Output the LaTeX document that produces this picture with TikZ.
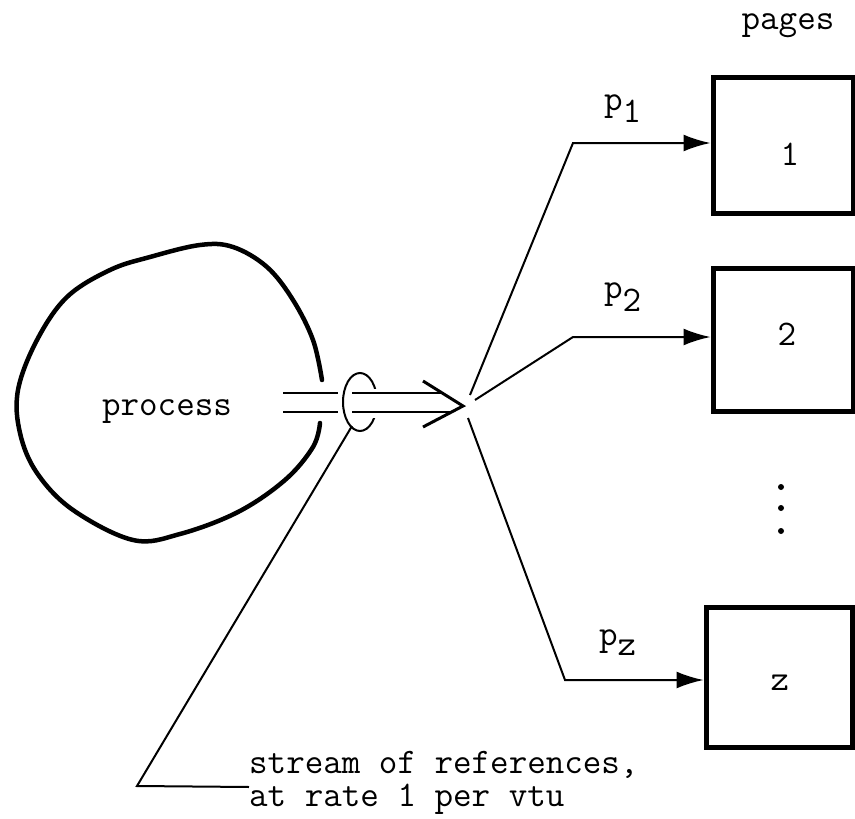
\documentclass[tikz,border=0pt]{standalone}
\usetikzlibrary{arrows.meta}

\begin{document}
\begin{tikzpicture}[x = 1pt, y = -1pt, > = {Latex[length = 27pt, width = 17pt]},
	every node/.style = {font = \ttfamily\fontsize{36}{31}\selectfont, inner sep = 0pt},
	pagebox/.style = {draw, line width = 5pt, minimum width = 140pt, minimum height = 136pt},
	wire/.style = {line width = 2pt}]

	\useasboundingbox (0, 0) rectangle (855, 819);

	% Process

	\draw [line width = 4.5pt, line cap = round] plot [smooth, tension = 0.6] coordinates {
		(322, 380) (313, 340) (293, 300) (267, 267) (233, 247) (200, 245) (150, 257)
		(110, 270) (67, 297) (37, 340) (18, 390) (20, 433) (37, 473) (73, 510)
		(133, 540) (180, 534) (238, 512) (285, 480) (313, 447) (320, 423)};
	\node (process) [anchor = base] at (167, 415) {process};

	% Stream of references

	\draw [line width = 2pt] (360, 402) ellipse [x radius = 17, y radius = 29];
	\fill [white] (355, 389) rectangle (386, 418);

	\begin{scope}[line width = 2.5pt]

		\draw (283, 393) -- (338, 393);
		\draw (283, 412) -- (338, 412);
		\draw (352, 393) -- (443, 393);
		\draw (352, 412) -- (450, 412);

	\end{scope}

	\draw [line width = 3pt] (423, 381) -- (463, 406) coordinate (hub) -- (423, 427);

	\coordinate (ring) at (352, 426);
	\node (stream) [anchor = north west, align = left,
		font = \ttfamily\fontsize{36}{33}\selectfont] at (249, 751)
		{stream of references,\\at rate 1 per vtu};
	\draw [wire] (ring) -- (137, 786) -- (stream.west |- 0, 787);

	% Pages

	\node (pages) [anchor = base] at (788, 30) {pages};

	\node [pagebox] (page1) at (783, 145) {};
	\node [pagebox, minimum height = 143pt] (page2) at (783, 340) {};
	\node [pagebox, minimum width = 146pt, minimum height = 140pt] (pagez) at (779, 677) {};

	\node [anchor = base] at (790, 165) {1};
	\node [anchor = base] at (787, 345) {2};
	\node [anchor = base] at (780, 690) {z};

	\foreach \y in {487, 508, 531}
		\fill (781, \y) circle (3pt);

	% Branches

	\coordinate (bend1) at (573, 143);
	\coordinate (bend2) at (573, 337);
	\coordinate (bendz) at (565, 680);

	\draw [wire, ->] (470, 395) -- (bend1) -- (bend1 -| page1.west);
	\draw [wire, ->] (475, 400) -- (bend2) -- (bend2 -| page2.west);
	\draw [wire, ->] (468, 418) -- (bendz) -- (bendz -| pagez.west);

	\node (p1) [anchor = base west] at (604, 110) {p\raisebox{-13pt}{1}};
	\node (p2) [anchor = base west] at (604, 298) {p\raisebox{-13pt}{2}};
	\node (pz) [anchor = base west] at (599, 645) {p\raisebox{-10pt}{z}};

\end{tikzpicture}
\end{document}
